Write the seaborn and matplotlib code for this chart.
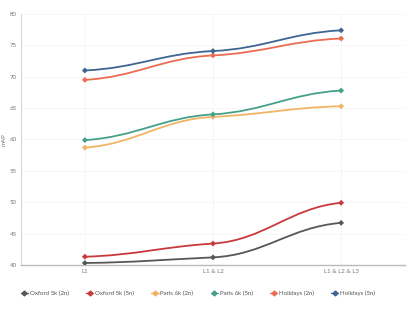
import numpy as np
import pandas as pd
import matplotlib
matplotlib.use("Agg")
import matplotlib.pyplot as plt
from matplotlib.path import Path
from matplotlib.patches import PathPatch
from matplotlib.lines import Line2D
import seaborn as sns

# veriler
kategoriler = ["L1", "L1 & L2", "L1 & L2 & L3"]
seriler = ["Oxford 5k (2n)", "Oxford 5k (5n)", "Paris 6k (2n)",
           "Paris 6k (5n)", "Holidays (2n)", "Holidays (5n)"]
oxford_2n = [40.3, 41.2, 46.7]
oxford_5n = [41.3, 43.4, 49.9]
paris_2n = [58.7, 63.6, 65.3]
paris_5n = [59.9, 64.0, 67.8]
holidays_2n = [69.5, 73.4, 76.1]
holidays_5n = [71.0, 74.1, 77.4]
renkler = ["#575757", "#c9393b", "#f0b465", "#45a08a", "#ec6c52", "#3d6592"]

degerler = [oxford_2n, oxford_5n, paris_2n, paris_5n, holidays_2n, holidays_5n]
df = pd.DataFrame({
    "seri": np.repeat(seriler, len(kategoriler)),
    "x": np.tile(np.arange(len(kategoriler)), len(seriler)),
    "mAP": np.concatenate(degerler),
})

sns.set_theme(style="white")
plt.rcParams["font.family"] = ["Lato", "DejaVu Sans"]
fs = 4.4

fig = plt.figure(figsize=(4.16, 3.12), dpi=100)
ax = fig.add_axes([0.05, 0.151, 0.924, 0.804])

# noktalar
sns.scatterplot(data=df, x="x", y="mAP", hue="seri", palette=renkler,
                marker="D", s=9, linewidth=0, legend=False, ax=ax, zorder=3)


def egri(xs, ys, k=0.4, t=0.3):
    # yumuşak eğri: noktalarda yatıka yakın teğetli bezier parçaları
    xs = np.asarray(xs, float)
    ys = np.asarray(ys, float)
    n = len(xs)
    m = np.zeros(n)
    for i in range(n):
        a = max(i - 1, 0)
        b = min(i + 1, n - 1)
        m[i] = t * (ys[b] - ys[a]) / (xs[b] - xs[a])
    verts = [(xs[0], ys[0])]
    codes = [Path.MOVETO]
    for i in range(n - 1):
        h = xs[i + 1] - xs[i]
        verts += [(xs[i] + k * h, ys[i] + m[i] * k * h),
                  (xs[i + 1] - k * h, ys[i + 1] - m[i + 1] * k * h),
                  (xs[i + 1], ys[i + 1])]
        codes += [Path.CURVE4] * 3
    return Path(verts, codes)


for seri, renk in zip(seriler, renkler):
    alt = df[df["seri"] == seri]
    ax.add_patch(PathPatch(egri(alt["x"], alt["mAP"]), facecolor="none",
                           edgecolor=renk, lw=1.3, zorder=2))

ax.set_xlim(-0.5, 2.5)
ax.set_ylim(40, 80)
ax.set_xticks(range(len(kategoriler)))
ax.set_xticklabels(kategoriler)
ax.set_yticks(range(40, 81, 5))
ax.tick_params(axis="both", labelsize=fs, colors="#777777", length=0, pad=3)
ax.set_xlabel("")
ax.set_ylabel("mAP", fontsize=fs, color="#777777")
ax.yaxis.set_label_coords(-0.036, 0.5)
ax.grid(True, color="#e8e8e8", lw=0.5, ls=(0, (2, 2)))
for k in ["top", "right"]:
    ax.spines[k].set_visible(False)
ax.spines["left"].set_color("#cccccc")
ax.spines["left"].set_linewidth(0.6)
ax.spines["bottom"].set_color("#bbbbbb")
ax.spines["bottom"].set_linewidth(1.0)

handles = [Line2D([0], [0], color=r, marker="D", markersize=2.5, lw=1)
           for r in renkler]
fig.legend(handles, seriler, loc="center", bbox_to_anchor=(0.476, 0.061),
           ncol=6, frameon=False, fontsize=fs, handlelength=1.2,
           handletextpad=0.3, columnspacing=2.8, labelcolor="#555555")

fig.savefig("out.png", dpi=100)
